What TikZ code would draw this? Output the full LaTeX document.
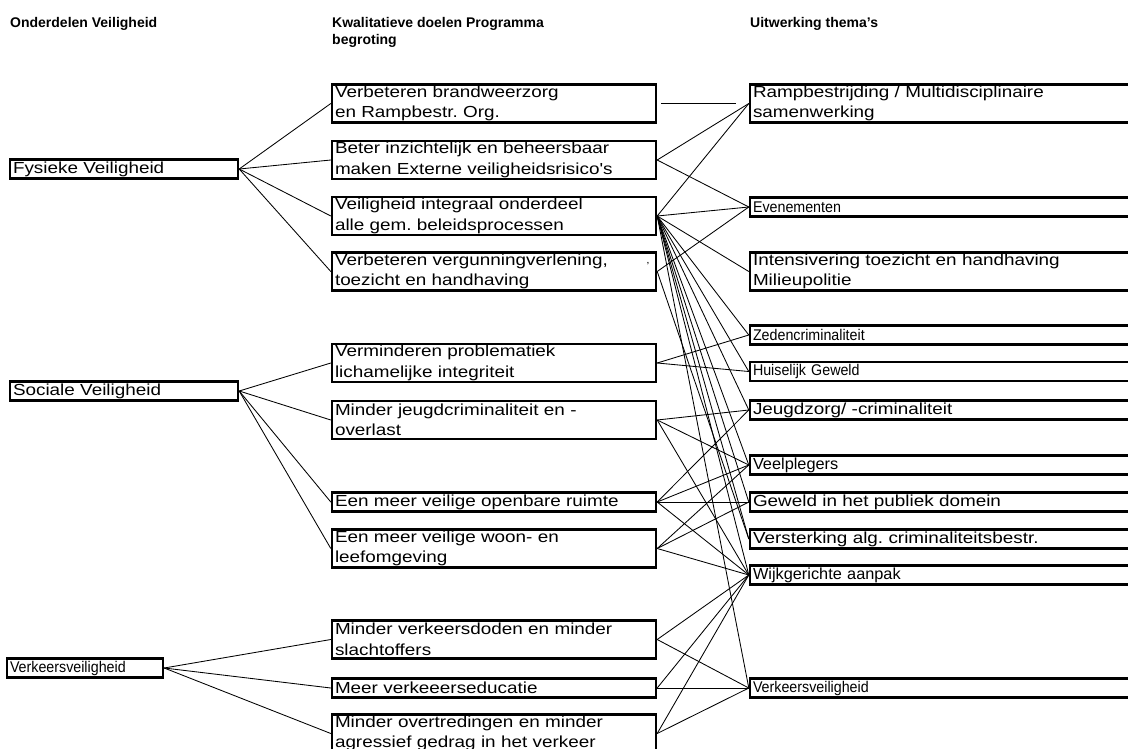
\documentclass[tikz,border=0pt]{standalone}
\usepackage{fontspec}
\setmainfont{Liberation Sans}
\newfontfamily\vakfont[FakeStretch=1.18]{Liberation Sans}
\newfontfamily\halfbreed[FakeStretch=1.02]{Liberation Sans}
\newfontfamily\smalfont[FakeStretch=0.92]{Liberation Sans}
\frenchspacing

\begin{document}
\begin{tikzpicture}[x=1pt,y=-1pt,
  kop/.style={anchor=base west,inner sep=0pt,align=left,font=\fontsize{14}{17}\selectfont\bfseries},
  vak/.style={draw,line width=2.4pt,inner xsep=3pt,inner ysep=0pt,align=left,font=\vakfont\fontsize{16}{20.5}\selectfont},
  smal/.style={font=\smalfont\fontsize{15.5}{20.5}\selectfont},
  half/.style={font=\halfbreed\fontsize{16}{20.5}\selectfont},
  hoofd/.style={vak,text width=222pt},
  doel/.style={vak,text width=318pt},
  thema/.style={vak,text width=384pt},
  een/.style={minimum height=19pt},
  twee/.style={minimum height=38pt},
  verbind/.style={line width=0.85pt}]
\useasboundingbox (0,0) rectangle (1128,748);
\clip (0,0) rectangle (1128,748);

% koppen
\node[kop] (kop1) at (10,27) {Onderdelen Veiligheid};
\node[kop] (kop2) at (332,44) {Kwalitatieve doelen Programma\\begroting};
\node[kop] (kop3) at (750,27) {Uitwerking thema's};

% onderdelen
\node[hoofd,een] (fysiek) at (124,169) {Fysieke Veiligheid};
\node[hoofd,een] (sociaal) at (124,391) {Sociale Veiligheid};
\node[vak,een,smal,text width=150pt] (verkeer) at (85,668) {Verkeersveiligheid};

% doelen
\node[doel,twee] (brandweer) at (494,103.5) {Verbeteren brandweerzorg\\en Rampbestr. Org.};
\node[doel,twee] (extern) at (494,160) {Beter inzichtelijk en beheersbaar\\maken Externe veiligheidsrisico's};
\node[doel,twee] (integraal) at (494,216) {Veiligheid integraal onderdeel\\alle gem. beleidsprocessen};
\node[doel,twee] (vergunning) at (494,271.5) {Verbeteren vergunningverlening,\\toezicht en handhaving};
\node[font=\vakfont\fontsize{10}{12}\selectfont,inner sep=0pt] (komma) at (648,264) {,};
\node[doel,twee] (lichamelijk) at (494,363) {Verminderen problematiek\\lichamelijke integriteit};
\node[doel,twee] (jeugd) at (494,420) {Minder jeugdcriminaliteit en -\\overlast};
\node[doel,een] (openbaar) at (494,502) {Een meer veilige openbare ruimte};
\node[doel,twee] (woon) at (494,548.5) {Een meer veilige woon- en\\leefomgeving};
\node[doel,twee] (doden) at (494,639.5) {Minder verkeersdoden en minder\\slachtoffers};
\node[doel,een] (educatie) at (494,688) {Meer verkeeerseducatie};
\node[doel,twee] (overtreding) at (494,733.5) {Minder overtredingen en minder\\agressief gedrag in het verkeer};

% thema's
\node[thema,twee] (ramp) at (945,103.5) {Rampbestrijding / Multidisciplinaire\\samenwerking};
\node[thema,een,smal] (evenement) at (945,207) {Evenementen};
\node[thema,twee] (milieu) at (945,271.5) {Intensivering toezicht en handhaving\\Milieupolitie};
\node[thema,een,smal] (zeden) at (945,335) {Zedencriminaliteit};
\node[thema,een,smal] (huiselijk) at (945,371.5) {Huiselijk Geweld};
\node[thema,een] (jeugdzorg) at (945,410) {Jeugdzorg/ -criminaliteit};
\node[thema,een,half] (veelplegers) at (945,465) {Veelplegers};
\node[thema,een] (geweld) at (945,502) {Geweld in het publiek domein};
\node[thema,een] (versterking) at (945,539) {Versterking alg. criminaliteitsbestr.};
\node[thema,een,half] (wijk) at (945,575) {Wijkgerichte aanpak};
\node[thema,een,smal] (verkeersv) at (945,688) {Verkeersveiligheid};

\path[verbind]
  (fysiek.east) edge (brandweer.west)
  (fysiek.east) edge (extern.west)
  (fysiek.east) edge (integraal.west)
  (fysiek.east) edge (vergunning.west)
  (sociaal.east) edge (lichamelijk.west)
  (sociaal.east) edge (jeugd.west)
  (sociaal.east) edge (openbaar.west)
  (sociaal.east) edge (woon.west)
  (verkeer.east) edge (doden.west)
  (verkeer.east) edge (educatie.west)
  (verkeer.east) edge (overtreding.west)
  (brandweer.east) edge[shorten <=4pt,shorten >=13pt] (ramp.west)
  (extern.east) edge (ramp.west)
  (extern.east) edge (evenement.west)
  (integraal.east) edge (ramp.west)
  (integraal.east) edge (evenement.west)
  (integraal.east) edge (milieu.west)
  (integraal.east) edge (zeden.west)
  (integraal.east) edge (huiselijk.west)
  (integraal.east) edge (jeugdzorg.west)
  (integraal.east) edge (veelplegers.west)
  (integraal.east) edge (geweld.west)
  (integraal.east) edge (versterking.west)
  (integraal.east) edge (wijk.west)
  (integraal.east) edge (verkeersv.west)
  (vergunning.east) edge (evenement.west)
  (vergunning.east) edge (versterking.west)
  (lichamelijk.east) edge (zeden.west)
  (lichamelijk.east) edge (huiselijk.west)
  (jeugd.east) edge (jeugdzorg.west)
  (jeugd.east) edge (veelplegers.west)
  (jeugd.east) edge (wijk.west)
  (openbaar.east) edge (jeugdzorg.west)
  (openbaar.east) edge (veelplegers.west)
  (openbaar.east) edge (geweld.west)
  (openbaar.east) edge (wijk.west)
  (woon.east) edge (veelplegers.west)
  (woon.east) edge (geweld.west)
  (woon.east) edge (wijk.west)
  (doden.east) edge (wijk.west)
  (doden.east) edge (verkeersv.west)
  (educatie.east) edge (wijk.west)
  (educatie.east) edge (verkeersv.west)
  (overtreding.east) edge (wijk.west)
  (overtreding.east) edge (verkeersv.west)
;
\end{tikzpicture}
\end{document}
